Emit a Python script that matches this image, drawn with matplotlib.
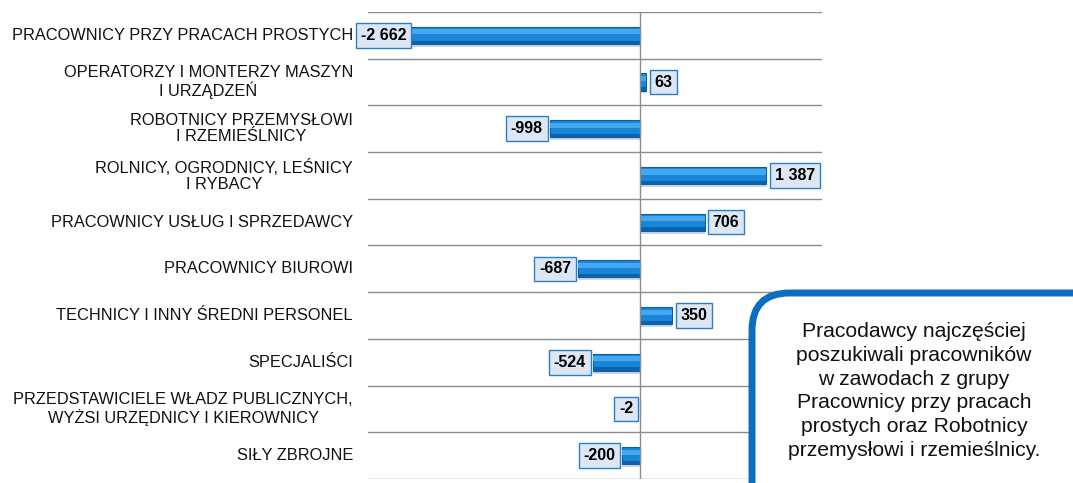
import matplotlib.pyplot as plt
from matplotlib.patches import FancyBboxPatch
import numpy as np

plt.rcParams['font.family'] = ['Liberation Sans', 'DejaVu Sans']

categories = [
    "PRACOWNICY PRZY PRACACH PROSTYCH",
    "OPERATORZY I MONTERZY MASZYN\nI URZĄDZEŃ",
    "ROBOTNICY PRZEMYSŁOWI\nI RZEMIEŚLNICY",
    "ROLNICY, OGRODNICY, LEŚNICY\nI RYBACY",
    "PRACOWNICY USŁUG I SPRZEDAWCY",
    "PRACOWNICY BIUROWI",
    "TECHNICY I INNY ŚREDNI PERSONEL",
    "SPECJALIŚCI",
    "PRZEDSTAWICIELE WŁADZ PUBLICZNYCH,\nWYŻSI URZĘDNICY I KIEROWNICY",
    "SIŁY ZBROJNE",
]
values = [-2662, 63, -998, 1387, 706, -687, 350, -524, -2, -200]
value_labels = ["-2 662", "63", "-998", "1 387", "706", "-687", "350", "-524", "-2", "-200"]

callout = ("Pracodawcy najczęściej\nposzukiwali pracowników\nw zawodach z grupy\n"
           "Pracownicy przy pracach\nprostych oraz Robotnicy\nprzemysłowi i rzemieślnicy.")

fig = plt.figure(figsize=(10.73, 4.83), dpi=100)
ax = fig.add_axes([368 / 1073, 4 / 483, 454 / 1073, 467 / 483])

y = np.arange(len(categories))
h = 0.37

# shadow, body, highlight, dark lower edge
ax.barh(y + 0.06, values, height=h, color='#9aa5b1', alpha=0.45, zorder=2)
ax.barh(y, values, height=h, color='#1a86d8', edgecolor='#0d5ea8', linewidth=0.8, zorder=3)
ax.barh(y - h * 0.2, values, height=h * 0.3, color='#45a8ee', linewidth=0, zorder=4)
ax.barh(y + h * 0.4, values, height=h * 0.2, color='#0d62ad', linewidth=0, zorder=4)

for yi, v, lab in zip(y, values, value_labels):
    if v < 0:
        ax.annotate(lab, (max(v, -2500), yi), xytext=(-5, 0), textcoords='offset points',
                    ha='right', va='center', fontsize=11.5, fontweight='bold', zorder=6,
                    bbox=dict(boxstyle='square,pad=0.3', fc='#dde7f3', ec='#2a7fc9', lw=1))
    else:
        ax.annotate(lab, (v, yi), xytext=(6, 0), textcoords='offset points',
                    ha='left', va='center', fontsize=11.5, fontweight='bold', zorder=6,
                    bbox=dict(boxstyle='square,pad=0.3', fc='#dde7f3', ec='#2a7fc9', lw=1))

ax.set_xlim(-3000, 2000)
ax.set_ylim(len(categories) - 0.5, -0.5)

for b in np.arange(len(categories) + 1) - 0.5:
    ax.axhline(b, color='#8c8c8c', lw=1, zorder=1)
ax.axvline(0, color='#8c8c8c', lw=1, zorder=5)

for s in ax.spines.values():
    s.set_visible(False)
ax.set_xticks([])
ax.set_yticks([])

for yi, c in zip(y, categories):
    ax.text((353 - 368) / 454, yi, c, transform=ax.get_yaxis_transform(), fontsize=11.8,
            ha='right', va='center', multialignment='center', linespacing=1.1,
            color='#111111')

box = FancyBboxPatch((752 / 1073, -0.2), 0.6, (483 - 293) / 483 + 0.2,
                     boxstyle='round,pad=0,rounding_size=0.035',
                     transform=fig.transFigure, fc='white', ec='#0a6fc2', lw=5,
                     mutation_aspect=1073 / 483, zorder=10)
fig.patches.append(box)
fig.text(914 / 1073, (483 - 391) / 483, callout, ha='center', va='center', fontsize=15.2,
         linespacing=1.32, color='#111111', zorder=11)

fig.savefig('out.png', dpi=100)
